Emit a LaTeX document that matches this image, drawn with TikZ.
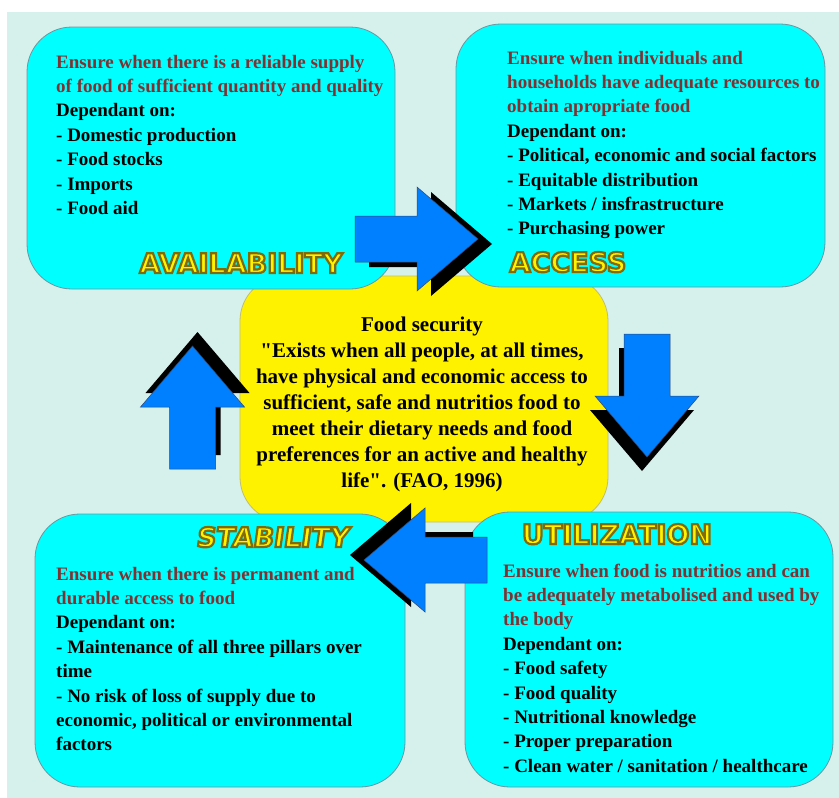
\documentclass[tikz,border=0pt]{standalone}
\usepackage{fontspec}
\setmainfont{Liberation Serif}[Ligatures=TeXOff]
\newfontfamily\titlefont{DejaVu Sans}
\definecolor{bg}{RGB}{214,240,236}
\definecolor{cyanbox}{RGB}{0,255,255}
\definecolor{boxline}{RGB}{110,150,160}
\definecolor{yline}{RGB}{190,190,120}
\definecolor{dred}{RGB}{128,50,50}
\definecolor{arrowblue}{RGB}{0,128,255}
\definecolor{arrowline}{RGB}{50,70,110}
\newcommand\blockarrow[3]{%
  \begin{scope}[shift={(#1,#2)}, rotate=#3]
    \fill[black] (14,-18) -- (76,-18) -- (76,-47) -- (137,5) -- (76,57) -- (76,28) -- (14,28) -- cycle;
    \path[arrowbody] (0,-23) -- (62,-23) -- (62,-52) -- (123,0) -- (62,52) -- (62,23) -- (0,23) -- cycle;
  \end{scope}}
\newcommand\outlinedtext[1]{\special{pdf:literal direct 2 Tr 2.2 w 0.50 0.42 0.04 RG}#1\special{pdf:literal direct 0 Tr}}
\begin{document}
\begin{tikzpicture}[x=1pt,y=-1pt,
  cbox/.style={draw=boxline, line width=0.8pt, fill=cyanbox, rounded corners=45pt, inner sep=0pt},
  ybox/.style={draw=yline, line width=0.8pt, fill=yellow, rounded corners=45pt, inner sep=0pt},
  btxt/.style={anchor=base west, inner sep=0pt, font=\fontsize{19}{24.4}\selectfont\bfseries},
  ctxt/.style={anchor=base, inner sep=0pt, font=\fontsize{21}{26.1}\selectfont\bfseries},
  ttl/.style={anchor=base, inner sep=0pt, text=yellow, font=\titlefont\fontsize{27}{30}\selectfont\bfseries},
  arrowbody/.style={fill=arrowblue, draw=arrowline, line width=0.5pt}]
\useasboundingbox (0,0) rectangle (839,798);
\fill[white] (0,0) rectangle (839,798);
\fill[bg] (7,12) rectangle (839,798);

% centre box
\node[ybox, minimum width=368pt, minimum height=246pt] (centre) at (424,399) {};
% four pillar boxes
\node[cbox, minimum width=368pt, minimum height=262pt] (avail) at (211,158) {};
\node[cbox, minimum width=369pt, minimum height=263pt] (access) at (640.5,155.5) {};
\node[cbox, minimum width=370pt, minimum height=273pt] (stab) at (220,650.5) {};
\node[cbox, minimum width=368pt, minimum height=275pt] (util) at (649,649.5) {};

% texts
\node[btxt] (availtxt) at (56,68) {\begin{tabular}[t]{@{}l@{}}
\textcolor{dred}{Ensure when there is a reliable supply}\\
\textcolor{dred}{of food of sufficient quantity and quality}\\
Dependant on:\\
- Domestic production\\
- Food stocks\\
- Imports\\
- Food aid
\end{tabular}};

\node[btxt] (accesstxt) at (507,64) {\begin{tabular}[t]{@{}l@{}}
\textcolor{dred}{Ensure when individuals and}\\
\textcolor{dred}{households have adequate resources to}\\
\textcolor{dred}{obtain apropriate food}\\
Dependant on:\\
- Political, economic and social factors\\
- Equitable distribution\\
- Markets / insfrastructure\\
- Purchasing power
\end{tabular}};

\node[btxt] (stabtxt) at (56,580) {\begin{tabular}[t]{@{}l@{}}
\textcolor{dred}{Ensure when there is permanent and}\\
\textcolor{dred}{durable access to food}\\
Dependant on:\\
- Maintenance of all three pillars over\\
time\\
- No risk of loss of supply due to\\
economic, political or environmental\\
factors
\end{tabular}};

\node[btxt] (utiltxt) at (503,577) {\begin{tabular}[t]{@{}l@{}}
\textcolor{dred}{Ensure when food is nutritios and can}\\
\textcolor{dred}{be adequately metabolised and used by}\\
\textcolor{dred}{the body}\\
Dependant on:\\
- Food safety\\
- Food quality\\
- Nutritional knowledge\\
- Proper preparation\\
- Clean water / sanitation / healthcare
\end{tabular}};

\node[ctxt] (centretxt) at (422,331) {\begin{tabular}[t]{@{}c@{}}
Food security\\
"Exists when all people, at all times,\\
have physical and economic access to\\
sufficient, safe and nutritios food to\\
meet their dietary needs and food\\
preferences for an active and healthy\\
life". (FAO, 1996)
\end{tabular}};

% titles
\node[ttl] (availttl) at (241,273) {\outlinedtext{AVAILABILITY}};
\node[ttl] (accessttl) at (568,272) {\outlinedtext{ACCESS}};
\node[ttl, xslant=0.14, transform shape] (stabttl) at (272,547) {\outlinedtext{STABILITY}};
\node[ttl] (utilttl) at (617,544) {\outlinedtext{UTILIZATION}};

% block arrows
\blockarrow{355}{239}{0}
\blockarrow{647}{334}{-90}
\blockarrow{487}{560}{180}
\blockarrow{192.5}{469}{90}
\end{tikzpicture}
\end{document}
